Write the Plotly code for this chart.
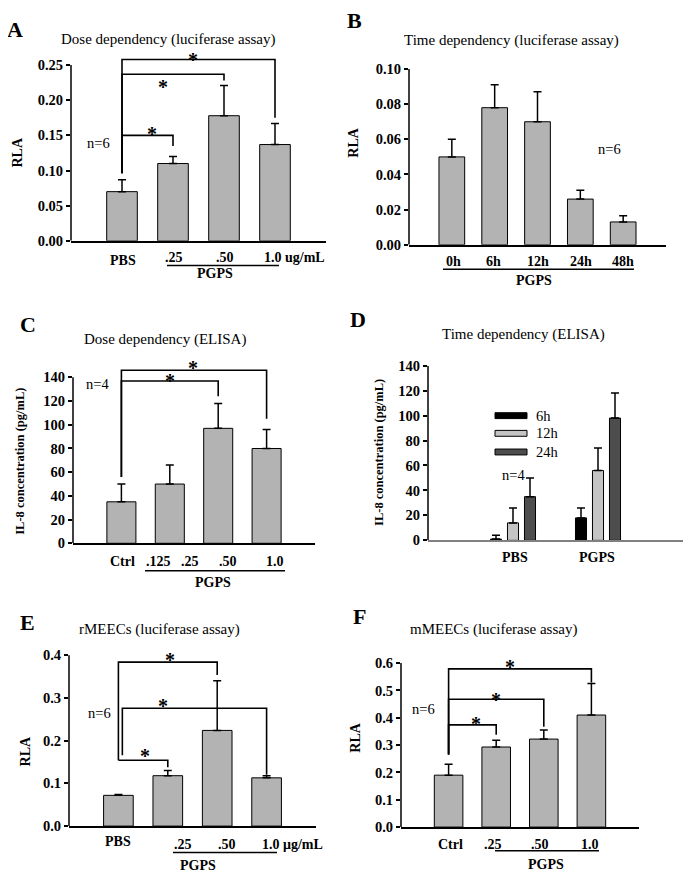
import plotly.graph_objects as go

W, H = 692, 886
OFF = 8  # the page body margin shifts the figure by 8px
SERIF = "Liberation Serif, Times New Roman, serif"
BAR = "#b3b3b3"

# ---- values ----
a_labels = ["PBS", ".25", ".50", "1.0 ug/mL"]
a_rla = [0.070, 0.110, 0.178, 0.137]
a_err = [0.017, 0.010, 0.043, 0.030]

b_labels = ["0h", "6h", "12h", "24h", "48h"]
b_rla = [0.050, 0.078, 0.070, 0.026, 0.013]
b_err = [0.010, 0.013, 0.017, 0.005, 0.0035]

c_labels = ["Ctrl", ".125", ".25", ".50", "1.0"]
c_il8 = [35, 50, 97, 80]
c_err = [15, 16, 21, 16]

d_groups = ["PBS", "PGPS"]
d_times = ["6h", "12h", "24h"]
d_6h = [1, 18]
d_6h_err = [3, 8]
d_12h = [14, 56]
d_12h_err = [12, 18]
d_24h = [35, 98]
d_24h_err = [15, 20]

e_labels = ["PBS", ".25", ".50", "1.0 \u03bcg/mL"]
e_rla = [0.072, 0.118, 0.224, 0.113]
e_err = [0.002, 0.012, 0.116, 0.005]

f_labels = ["Ctrl", ".25", ".50", "1.0"]
f_rla = [0.190, 0.293, 0.322, 0.410]
f_err = [0.040, 0.025, 0.033, 0.115]

# significance brackets: (from bar, to bar, left foot, height, right foot)
a_sig = [(0, 1, 0.096, 0.150, 0.135), (0, 2, 0.096, 0.237, 0.228), (0, 3, 0.096, 0.258, 0.175)]
c_sig = [(0, 2, 56, 137, 124), (0, 3, 56, 146, 105)]
e_sig = [(0, 1, 0.154, 0.154, 0.138), (0, 2, 0.154, 0.384, 0.354), (0.08, 3, 0.166, 0.276, 0.120)]
f_sig = [(0, 1, 0.266, 0.374, 0.338), (0, 2, 0.266, 0.468, 0.367), (0, 3, 0.266, 0.579, 0.529)]
# asterisks (x in bar units, y in data units)
a_stars = [(0.59, 0.159), (0.80, 0.226), (1.39, 0.265)]
c_stars = [(1.0, 141), (1.48, 152)]
e_stars = [(1.04, 0.400), (0.90, 0.294), (0.54, 0.175)]
f_stars = [(0.58, 0.396), (1.0, 0.482), (1.29, 0.604)]


def px(x):
    return (x - OFF) / W


def py(y):
    return 1 - (y - OFF) / H


fig = go.Figure()

# panel frames in screen pixels: x left/right, y of zero, px per unit, range top, top tick, tick step
panels = [
    dict(n=1, x0=71, x1=326, y0=237, k=716, top=0.29, ymax=0.25, dtick=0.05, fmt=".2f", xr=[-1, 4]),
    dict(n=2, x0=409, x1=666, y0=241, k=1790, top=0.10, ymax=0.10, dtick=0.02, fmt=".2f", xr=[-1, 5]),
    dict(n=3, x0=73, x1=315, y0=545, k=1.207, top=158, ymax=140, dtick=20, fmt="d", xr=[-1, 4]),
    dict(n=4, x0=428, x1=683, y0=542, k=1.271, top=140, ymax=140, dtick=20, fmt="d", xr=[-1, 2]),
    dict(n=5, x0=69, x1=316, y0=833, k=435, top=0.42, ymax=0.4, dtick=0.1, fmt=".1f", xr=[-1, 4]),
    dict(n=6, x0=401, x1=639, y0=834, k=278.3, top=0.63, ymax=0.6, dtick=0.1, fmt=".1f", xr=[-1, 4]),
]


def sfx(n):
    return "" if n == 1 else str(n)


for p in panels:
    n = p["n"]
    s = sfx(n)
    ticks = [i * p["dtick"] for i in range(int(round(p["ymax"] / p["dtick"])) + 1)]
    ytop_px = p["y0"] - p["top"] * p["k"]
    fig.layout["xaxis" + s] = dict(
        domain=[px(p["x0"]), px(p["x1"])], anchor="y" + s, range=p["xr"],
        showline=True, linecolor="#808080" if n == 4 else "black", linewidth=1.5,
        showgrid=False, zeroline=False, showticklabels=False, ticks="")
    fig.layout["yaxis" + s] = dict(
        domain=[py(p["y0"]), py(ytop_px)], anchor="x" + s, range=[0, p["top"]],
        showline=False, showgrid=False, zeroline=False,
        tickvals=ticks, tickformat=p["fmt"], ticks="outside", ticklen=4,
        tickwidth=1.5, tickcolor="black",
        tickfont=dict(family=SERIF, size=14.5, color="black", weight="bold"))
    # y axis line only up to the top tick
    fig.add_shape(type="line", xref="x" + s + " domain", yref="y" + s,
                  x0=0, x1=0, y0=0, y1=p["ymax"],
                  line=dict(color="black", width=1.5))


def bars(n, vals, errs, color=BAR, width=0.6, offset=None, x=None):
    s = sfx(n)
    fig.add_trace(go.Bar(
        x=x if x is not None else list(range(len(vals))), y=vals,
        width=width, offset=offset,
        marker=dict(color=color, line=dict(color="black", width=1)),
        error_y=dict(type="data", array=errs, arrayminus=[0] * len(errs),
                     symmetric=False, color="black", thickness=1.5, width=4),
        xaxis="x" + s, yaxis="y" + s, showlegend=False, hoverinfo="skip"))


def brackets(n, sig, stars):
    s = sfx(n)
    xs, ys = [], []
    for i, j, foot, h, end in sig:
        xs += [i, i, j, j, None]
        ys += [foot, h, h, end, None]
    fig.add_trace(go.Scatter(x=xs, y=ys, mode="lines",
                             line=dict(color="black", width=1.6),
                             xaxis="x" + s, yaxis="y" + s,
                             showlegend=False, hoverinfo="skip"))
    for sx, sy in stars:
        fig.add_annotation(text="*", x=sx, y=sy, xref="x" + s, yref="y" + s,
                           showarrow=False, yshift=-5,
                           font=dict(family=SERIF, size=20, color="black", weight="bold"))


bars(1, a_rla, a_err)
brackets(1, a_sig, a_stars)
bars(2, b_rla, b_err)
bars(3, c_il8, c_err)
brackets(3, c_sig, c_stars)
for vals, errs, col, off in [(d_6h, d_6h_err, "black", -0.265),
                             (d_12h, d_12h_err, "#c4c4c4", -0.065),
                             (d_24h, d_24h_err, "#4d4d4d", 0.135)]:
    bars(4, vals, errs, color=col, width=0.13, offset=off, x=[0, 1])
bars(5, e_rla, e_err)
brackets(5, e_sig, e_stars)
bars(6, f_rla, f_err)
brackets(6, f_sig, f_stars)


def text(s, x, y, size=14, bold=False, xanchor="center", angle=0):
    fig.add_annotation(text=s, x=px(x), y=py(y), xref="paper", yref="paper",
                       showarrow=False, xanchor=xanchor, yanchor="middle",
                       textangle=angle,
                       font=dict(family=SERIF, size=size, color="black",
                                 weight="bold" if bold else "normal"))


def underline(x0, x1, y):
    fig.add_shape(type="line", xref="paper", yref="paper",
                  x0=px(x0), x1=px(x1), y0=py(y), y1=py(y),
                  line=dict(color="black", width=1.5))


# panel letters
for ch, x, y in [("A", 15, 22), ("B", 354, 13), ("C", 28, 322),
                 ("D", 358, 317), ("E", 27, 626), ("F", 359, 620)]:
    text(ch, x, y, size=22, bold=True)

# titles
text("Dose dependency (luciferase assay)", 168, 32, size=15)
text("Time dependency (luciferase assay)", 511, 33, size=15)
text("Dose dependency (ELISA)", 165, 337, size=15)
text("Time dependency (ELISA)", 523, 332, size=15)
text("rMEECs (luciferase assay)", 159, 633, size=15)
text("mMEECs (luciferase assay)", 493, 633, size=15)

# y titles
text("RLA", 17, 147, bold=True, angle=-90)
text("RLA", 354, 137, bold=True, angle=-90)
text("IL-8 concentration (pg/mL)", 20, 462, size=12.5, bold=True, angle=-90)
text("IL-8 concentration (pg/mL)", 379, 453, size=12.5, bold=True, angle=-90)
text("RLA", 25, 757, bold=True, angle=-90)
text("RLA", 356, 743, bold=True, angle=-90)

# n labels
for lab, x, y in [("n=6", 98, 137), ("n=6", 609, 143), ("n=4", 97, 383),
                  ("n=4", 513, 475), ("n=6", 100, 718), ("n=6", 423, 714)]:
    text(lab, x, y, size=14.5)

# category labels
for lab, x, y, anc in zip(a_labels, [123, 174, 225, 262], [257, 254, 254, 254],
                          ["center", "center", "center", "left"]):
    text(lab, x, y, bold=True, xanchor=anc)
underline(167, 279, 262)
text("PGPS", 215, 270, bold=True)

for lab, x in zip(b_labels, [453, 494, 538, 581, 623]):
    text(lab, x, 258, bold=True)
underline(443, 634, 266)
text("PGPS", 534, 277, bold=True)

for lab, x in zip(c_labels, [123, 158, 190, 228, 275]):
    text(lab, x, 564, bold=True)
underline(145, 285, 573)
text("PGPS", 213, 585, bold=True)

for lab, x in zip(d_groups, [515, 597]):
    text(lab, x, 559, bold=True)

for lab, x, y, anc in zip(e_labels, [118, 183, 227, 260], [849, 852, 852, 852],
                          ["center", "center", "center", "left"]):
    text(lab, x, y, bold=True, xanchor=anc)
underline(173, 277, 860)
text("PGPS", 198, 873, bold=True)

for lab, x in zip(f_labels, [450, 493, 540, 590]):
    text(lab, x, 852, bold=True)
underline(495, 599, 858)
text("PGPS", 546, 872, bold=True)

# legend of panel D
for lab, col, y in zip(d_times, ["black", "#c4c4c4", "#4d4d4d"], [415, 433, 452]):
    fig.add_shape(type="rect", xref="paper", yref="paper",
                  x0=px(495), x1=px(527), y0=py(y + 3), y1=py(y - 3),
                  fillcolor=col, line=dict(color="black", width=1))
    text(lab, 534, y, size=14.5, xanchor="left")

fig.update_layout(width=W, height=H, margin=dict(l=0, r=0, t=0, b=0),
                  paper_bgcolor="white", plot_bgcolor="white",
                  barmode="overlay", showlegend=False)

fig.write_html("out.html")
